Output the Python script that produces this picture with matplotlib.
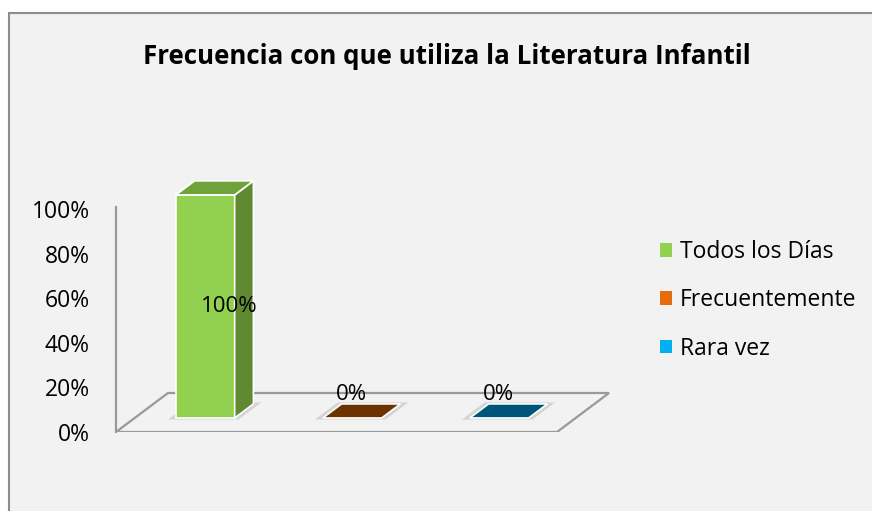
import matplotlib
matplotlib.use("Agg")
import matplotlib.pyplot as plt
from matplotlib.patches import Polygon, Rectangle, Patch

plt.rcParams['font.family'] = ['Open Sans', 'DejaVu Sans']

# Data
categories = ["Todos los Días", "Frecuentemente", "Rara vez"]
values = [100, 0, 0]
labels = ["100%", "0%", "0%"]
yticks = [0, 20, 40, 60, 80, 100]
title = "Frecuencia con que utiliza la Literatura Infantil"

# colours: legend colour, front, side, top
legend_colors = ["#92d050", "#e46c0a", "#00b0f0"]
front_colors = ["#92d050", "#e46c0a", "#00b0f0"]
side_colors = ["#5f8a32", "#8a4006", "#006a90"]
top_colors = ["#70a23c", "#6b3300", "#00567a"]

# oblique projection of depth
DX = 52 / 147.0   # category units per unit depth
DY = 39 / 2.23    # percent units per unit depth
D0, D1 = 0.36, 0.72
HALF_W = 0.2
SHIFT = -0.02


def proj(x, y, d):
    return (x + d * DX, y + d * DY)


fig = plt.figure(figsize=(8.72, 5.11), dpi=100)
fig.patch.set_facecolor("white")
fig.patches.append(Rectangle((9 / 872, -0.1), 1.2, 1 - 13 / 511 + 0.1,
                             transform=fig.transFigure, facecolor="#f2f2f2",
                             edgecolor="#8c8c8c", linewidth=1.5, zorder=-5))

ax = fig.add_axes([116 / 872, 79 / 511, 514.5 / 872, 256.5 / 511])
ax.set_facecolor("none")
ax.set_xlim(0, 3.5)
ax.set_ylim(0, 115)
for s in ["top", "right", "bottom"]:
    ax.spines[s].set_visible(False)
ax.spines["left"].set_bounds(0, 101)
ax.spines["left"].set_color("#999999")
ax.spines["left"].set_linewidth(1.6)
ax.set_xticks([])
ax.set_yticks(yticks)
ax.set_yticklabels([f"{t}%" for t in yticks], fontsize=16.5)
ax.tick_params(axis="y", length=0, pad=19)

# floor outline
n = len(categories)
floor = [proj(0, 0, 0), proj(n, 0, 0), proj(n, 0, 1), proj(0, 0, 1)]
ax.add_patch(Polygon(floor, closed=True, fill=False, edgecolor="#999999",
                     linewidth=1.6, zorder=1))

for i, v in enumerate(values):
    x0 = i + 0.5 + SHIFT - HALF_W
    x1 = i + 0.5 + SHIFT + HALF_W
    # soft shadow
    sh = [proj(x0 - 0.04, 0, D0 - 0.04), proj(x1 + 0.04, 0, D0 - 0.04),
          proj(x1 + 0.04, 0, D1 + 0.04), proj(x0 - 0.04, 0, D1 + 0.04)]
    ax.add_patch(Polygon(sh, closed=True, facecolor="#a8a8a8", edgecolor="none",
                         alpha=0.4, zorder=2))
    if v > 0:
        front = [proj(x0, 0, D0), proj(x1, 0, D0), proj(x1, v, D0), proj(x0, v, D0)]
        side = [proj(x1, 0, D0), proj(x1, 0, D1), proj(x1, v, D1), proj(x1, v, D0)]
        ax.add_patch(Polygon(front, closed=True, facecolor=front_colors[i],
                             edgecolor="white", linewidth=1.2, zorder=3))
        ax.add_patch(Polygon(side, closed=True, facecolor=side_colors[i],
                             edgecolor="white", linewidth=1.2, zorder=3))
    top = [proj(x0, v, D0), proj(x1, v, D0), proj(x1, v, D1), proj(x0, v, D1)]
    ax.add_patch(Polygon(top, closed=True, facecolor=top_colors[i],
                         edgecolor="white", linewidth=1.2, zorder=4))
    # data labels
    if v > 0:
        lx, ly = i + 0.5 + 0.27, v / 2 + D0 * DY
    else:
        lx, ly = i + 0.5 + 0.1, DY - 0.6
    ax.text(lx, ly, labels[i], ha="center", va="center", fontsize=16,
            color="black", zorder=6)

fig.text(447 / 872, 1 - 56 / 511, title, ha="center", va="center",
         fontsize=18.6, fontweight="bold")

handles = [Patch(facecolor=c, edgecolor="none") for c in legend_colors]
fig.legend(handles, categories, loc="upper left",
           bbox_to_anchor=(660 / 872, 1 - 240 / 511), frameon=False,
           fontsize=16.5, handlelength=0.52, handleheight=0.52,
           handletextpad=0.35, labelspacing=1.06, borderpad=0, borderaxespad=0)

fig.savefig("out.png", dpi=100, facecolor=fig.get_facecolor())
